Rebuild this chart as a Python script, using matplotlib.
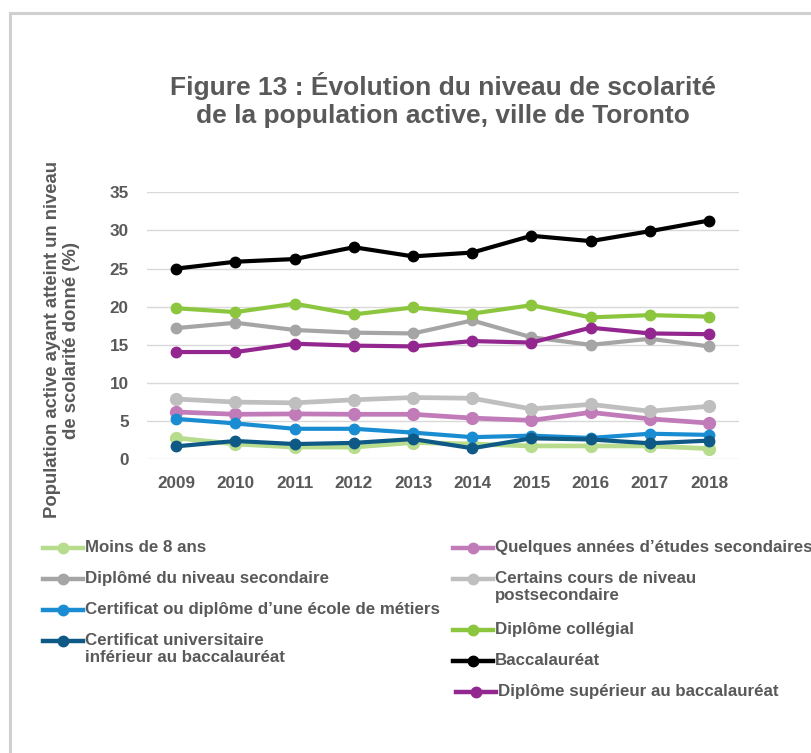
import matplotlib
matplotlib.use("Agg")
import matplotlib.pyplot as plt
from matplotlib.lines import Line2D
from matplotlib.patches import Rectangle

plt.rcParams['font.family'] = ['Liberation Sans', 'DejaVu Sans']
plt.rcParams['font.weight'] = 'bold'

TEXT = '#595959'

years = ['2009', '2010', '2011', '2012', '2013', '2014', '2015', '2016', '2017', '2018']

moins_8_ans = [2.8, 2.0, 1.6, 1.6, 2.2, 2.0, 1.75, 1.75, 1.75, 1.4]
quelques_annees = [6.2, 5.9, 5.95, 5.9, 5.9, 5.4, 5.1, 6.15, 5.3, 4.75]
diplome_secondaire = [17.2, 17.9, 16.95, 16.6, 16.5, 18.2, 16.0, 15.0, 15.8, 14.8]
certains_cours = [7.9, 7.5, 7.4, 7.8, 8.1, 8.0, 6.6, 7.2, 6.3, 6.95]
ecole_metiers = [5.3, 4.7, 4.0, 4.0, 3.5, 2.9, 3.1, 2.8, 3.35, 3.2]
collegial = [19.8, 19.3, 20.4, 19.0, 19.9, 19.1, 20.2, 18.6, 18.9, 18.7]
certif_univ = [1.7, 2.4, 2.0, 2.15, 2.65, 1.45, 2.75, 2.6, 2.1, 2.45]
baccalaureat = [25.0, 25.9, 26.25, 27.8, 26.6, 27.1, 29.3, 28.6, 29.9, 31.3]
superieur = [14.06, 14.06, 15.15, 14.9, 14.8, 15.5, 15.3, 17.25, 16.5, 16.4]

# label, values, colour, light (drawn a bit thicker)
series = [
    ("Moins de 8 ans", moins_8_ans, '#b7dc8d', True),
    ("Quelques années d\u2019études secondaires", quelques_annees, '#c07bb8', True),
    ("Diplômé du niveau secondaire", diplome_secondaire, '#a5a5a5', False),
    ("Certains cours de niveau\npostsecondaire", certains_cours, '#bfbfbf', True),
    ("Certificat ou diplôme d\u2019une école de métiers", ecole_metiers, '#1a8dd2', False),
    ("Diplôme collégial", collegial, '#8cc63f', False),
    ("Certificat universitaire\ninférieur au baccalauréat", certif_univ, '#0e5985', False),
    ("Baccalauréat", baccalaureat, '#000000', False),
    ("Diplôme supérieur au baccalauréat", superieur, '#93278f', False),
]

W, H = 811, 753
fig = plt.figure(figsize=(W / 100, H / 100), dpi=100)

# light grey frame around the panel
fig.patches.append(Rectangle((9.5 / W, -0.1), 1.2, 1 - 13 / H + 0.1, transform=fig.transFigure,
                             fill=False, edgecolor='#d0d0d0', linewidth=2.2))

ax = fig.add_axes([146.7 / W, 1 - 459.3 / H, (738.6 - 146.7) / W, (459.3 - 192.3) / H])
x = list(range(len(years)))
for label, vals, color, light in series:
    ax.plot(x, vals, color=color, lw=3.4 if light else 3.0, marker='o',
            ms=8.5 if light else 7.5, clip_on=False, solid_joinstyle='round')

ax.set_xlim(-0.5, len(years) - 0.5)
ax.set_ylim(0, 35)
ax.set_yticks(range(0, 36, 5))
ax.set_xticks(x)
ax.set_xticklabels(years)
ax.grid(axis='y', color='#d9d9d9', lw=1)
ax.set_axisbelow(True)
for s in ax.spines.values():
    s.set_visible(False)
ax.tick_params(length=0, labelsize=12.3, colors=TEXT)
ax.tick_params(axis='y', pad=13)
ax.tick_params(axis='x', pad=12)

fig.text(443 / W, 1 - 100 / H, "Figure 13 : Évolution du niveau de scolarité\nde la population active, ville de Toronto",
         ha='center', va='center', fontsize=19, color=TEXT, linespacing=1.2)

fig.text(62 / W, 1 - 340 / H, "Population active ayant atteint un niveau\nde scolarité donné (%)",
         rotation=90, ha='center', va='center', fontsize=13.3, color=TEXT, multialignment='center',
         linespacing=1.12)

# legend laid out as in the source (two columns, handle on first line)
left_rows = [548, 579, 610, 641]
right_rows = [548, 579, 630, 661, 692]
left_idx = [0, 2, 4, 6]
right_idx = [1, 3, 5, 7, 8]

def legend_entry(i, y, x0):
    label, _, color, light = series[i]
    fy = 1 - y / H
    fig.lines.append(Line2D([x0 / W, (x0 + 40) / W], [fy, fy], transform=fig.transFigure,
                            color=color, lw=3.2))
    fig.lines.append(Line2D([(x0 + 20) / W], [fy], transform=fig.transFigure, color=color,
                            marker='o', ms=7.5, lw=0))
    fig.text((x0 + 42) / W, fy + 8 / H, label, ha='left', va='top', fontsize=12.2, color=TEXT,
             linespacing=1.2)

for i, y in zip(left_idx, left_rows):
    legend_entry(i, y, 43)
for i, y in zip(right_idx, right_rows):
    legend_entry(i, y, 456 if i == 8 else 453)

fig.savefig("out.png", dpi=100)
